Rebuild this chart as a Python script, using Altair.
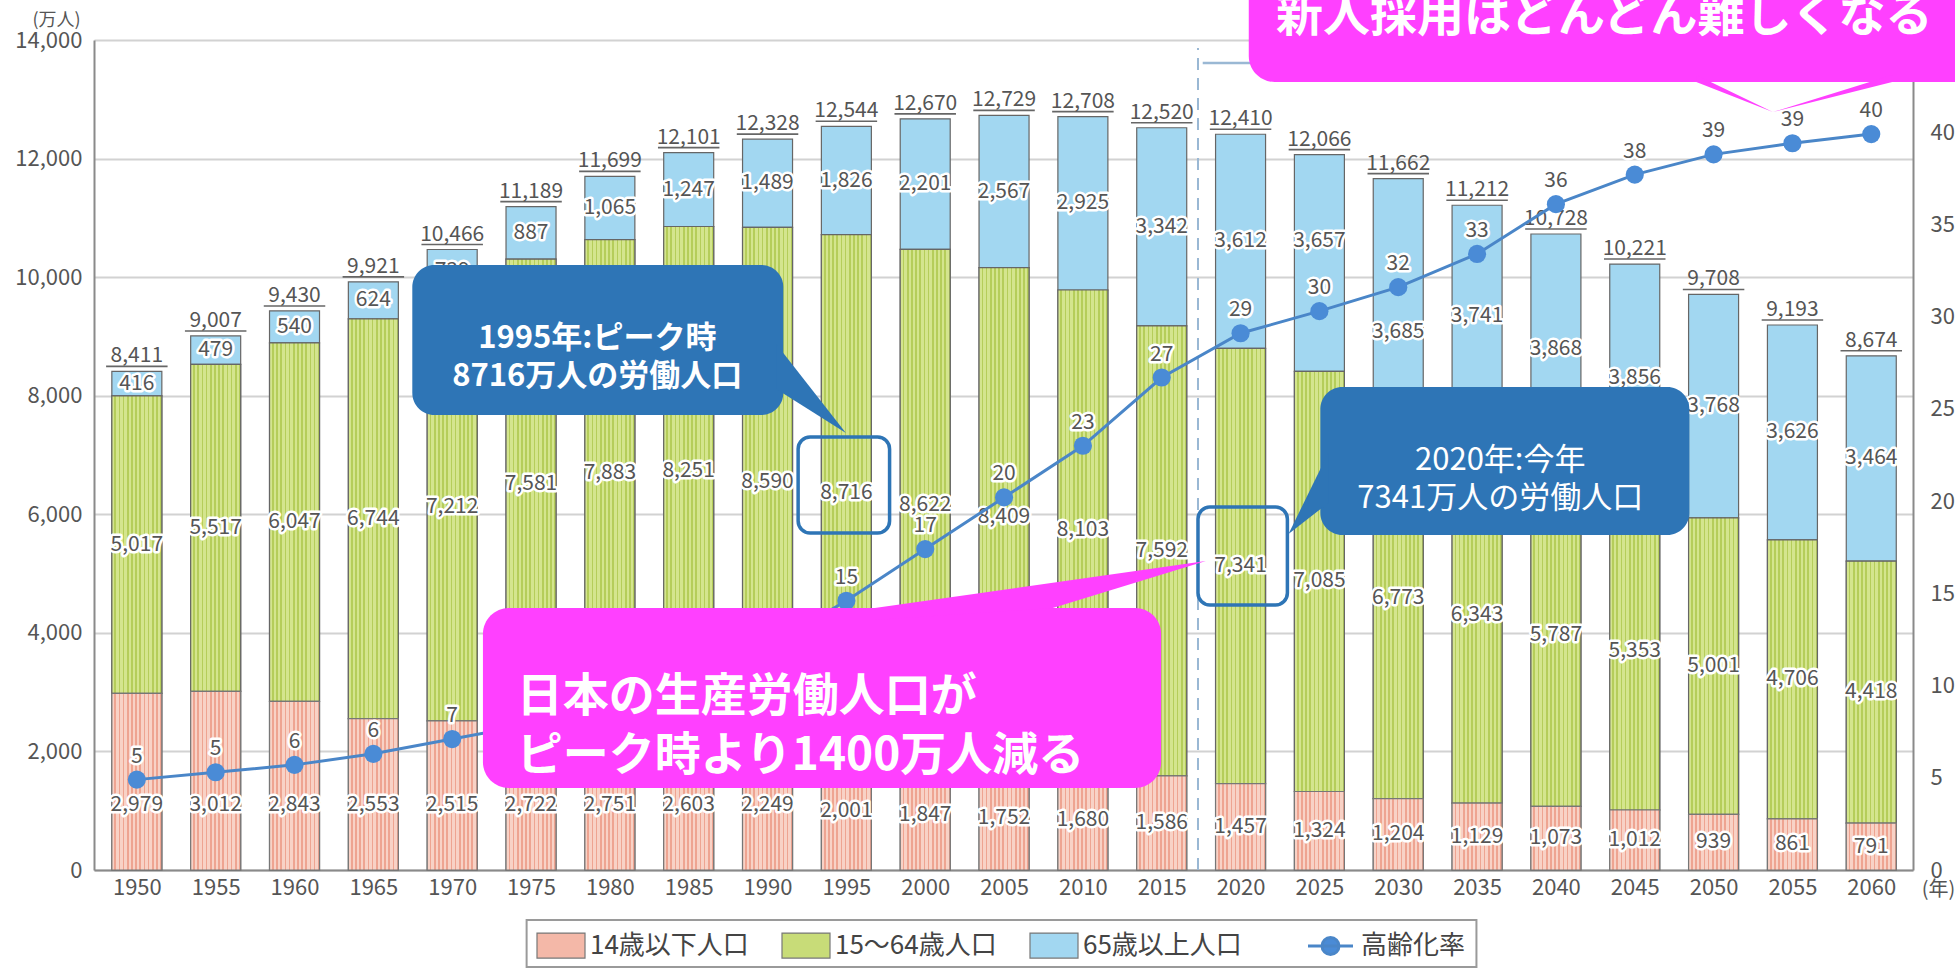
import altair as alt
import pandas as pd

FONT = "Noto Sans CJK JP"

# ---------------- data ----------------
years = [1950, 1955, 1960, 1965, 1970, 1975, 1980, 1985, 1990, 1995, 2000, 2005,
         2010, 2015, 2020, 2025, 2030, 2035, 2040, 2045, 2050, 2055, 2060]
under15 = [2979, 3012, 2843, 2553, 2515, 2722, 2751, 2603, 2249, 2001, 1847, 1752,
           1680, 1586, 1457, 1324, 1204, 1129, 1073, 1012, 939, 861, 791]
working = [5017, 5517, 6047, 6744, 7212, 7581, 7883, 8251, 8590, 8716, 8622, 8409,
           8103, 7592, 7341, 7085, 6773, 6343, 5787, 5353, 5001, 4706, 4418]
elderly = [416, 479, 540, 624, 739, 887, 1065, 1247, 1489, 1826, 2201, 2567,
           2925, 3342, 3612, 3657, 3685, 3741, 3868, 3856, 3768, 3626, 3464]
totals = [8411, 9007, 9430, 9921, 10466, 11189, 11699, 12101, 12328, 12544, 12670, 12729,
          12708, 12520, 12410, 12066, 11662, 11212, 10728, 10221, 9708, 9193, 8674]
aging_rate = [4.9, 5.3, 5.7, 6.3, 7.1, 7.9, 9.1, 10.3, 12.1, 14.6, 17.4, 20.2,
              23.0, 26.7, 29.1, 30.3, 31.6, 33.4, 36.1, 37.7, 38.8, 39.4, 39.9]

bar_series = ["14歳以下人口", "15～64歳人口", "65歳以上人口"]
bar_colors = ["#f4b8a8", "#c8dc78", "#a2d7f1"]
line_series = ["高齢化率"]
line_colors = ["#4a86c8"]

left_ticks = [0, 2000, 4000, 6000, 8000, 10000, 12000, 14000]
right_ticks = [0, 5, 10, 15, 20, 25, 30, 35, 40]

callout1_text = ["1995年:ピーク時\n8716万人の労働人口"]
callout2_text = ["2020年:今年\n7341万人の労働人口"]
pink2_text = ["日本の生産労働人口が\nピーク時より1400万人減る"]
top_text = ["新人採用はどんどん難しくなる"]

# ---------------- frames ----------------
rows = []
for i, yr in enumerate(years):
    for k, (name, arr) in enumerate(zip(bar_series, [under15, working, elderly])):
        rows.append({"year": yr, "series": name, "value": arr[i], "order": k})
pop = pd.DataFrame(rows)
tot = pd.DataFrame({"year": years, "total": totals})
rate = pd.DataFrame({"year": years, "rate": aging_rate, "series": line_series * len(years)})

XS = alt.Scale(domain=[1947.6, 2062.33], nice=False, zero=False)
YL = alt.Scale(domain=[0, 14000], nice=False)
YR = alt.Scale(domain=[0, 45], nice=False)

x_axis = alt.Axis(values=years, format="d", ticks=False, labelPadding=7, labelFontSize=22,
                  labelColor="#555", domainColor="#8a8a8a", domainWidth=2, grid=False,
                  title="(年)", titleX=1844, titleY=19, titleAlign="center",
                  titleBaseline="middle", titleFontSize=20, titleFontWeight="normal",
                  titleColor="#555")
y_axis = alt.Axis(values=left_ticks, format=",.0f", ticks=False, labelPadding=12, labelFontSize=22,
                  labelColor="#555", domainColor="#8a8a8a", domainWidth=2, grid=True,
                  gridColor="#d2d2d2", gridWidth=2, title="(万人)", titleAngle=0,
                  titleX=-38, titleY=-20, titleAlign="center", titleBaseline="middle",
                  titleFontSize=18, titleFontWeight="normal", titleColor="#555")
r_axis = alt.Axis(orient="right", values=right_ticks, format=".0f", ticks=False, labelPadding=17,
                  grid=False, labelFontSize=22, labelColor="#555", domainColor="#8a8a8a",
                  domainWidth=2, title=None)


def X(f):
    return alt.X(f, scale=XS, axis=x_axis)


def YLft(f):
    return alt.Y(f, scale=YL, axis=y_axis)


def YRgt(f):
    return alt.Y(f, scale=YR, axis=r_axis)


def YAnn(f):
    return alt.Y(f, scale=YL, axis=None)


RECT = "M-0.96,-0.5H0.96V0.5H-0.96Z"
LINESYM = "M-0.9,0H0.9M0.34,0A0.34,0.34,0,1,1,-0.34,0A0.34,0.34,0,1,1,0.34,0"
legend_bars = alt.Legend(
    title=None, orient="none", legendX=441, legendY=879.5, direction="horizontal",
    columns=3, symbolSize=2500, symbolType=RECT, symbolStrokeColor="#777",
    symbolStrokeWidth=1.2, symbolOpacity=1, labelFontSize=26, labelColor="#444",
    labelFont=FONT, labelLimit=400, columnPadding=30, labelOffset=3, padding=0)
legend_line = alt.Legend(
    title=None, orient="none", legendX=1210, legendY=879.5, direction="horizontal",
    symbolSize=2500, symbolType=LINESYM, symbolStrokeWidth=3, symbolFillColor="#4a8bd6",
    symbolOpacity=1, labelFontSize=26, labelColor="#444", labelFont=FONT, labelLimit=400,
    labelOffset=4, padding=0)


def stripe_fill(light, dark, n, dark_share):
    stops = []
    for s in range(n):
        a = s / n
        m = (s + 1 - dark_share) / n
        b = (s + 1) / n
        stops += [alt.GradientStop(offset=a, color=light), alt.GradientStop(offset=m, color=light),
                  alt.GradientStop(offset=m, color=dark), alt.GradientStop(offset=b, color=dark)]
    return alt.Gradient(gradient="linear", stops=stops, x1=0, x2=1, y1=0, y2=0)


green_fill = stripe_fill("#d4e58e", "#b5cd5a", 12, 0.4)
pink_fill = stripe_fill("#f8d2c6", "#eea491", 12, 0.4)

# ---------------- left group: bars ----------------
legend_box = alt.Chart(pd.DataFrame({"x": [1974.72], "x2": [2034.96], "y": [-1636], "y2": [-843]})).mark_rect(
    fill="white", stroke="#9a9a9a", strokeWidth=2, clip=False).encode(
    x=X("x:Q"), x2="x2:Q", y=YLft("y:Q"), y2="y2:Q")

dash = alt.Chart(pd.DataFrame({"x": [2017.3], "y": [0], "y2": [13865]})).mark_rule(
    strokeDash=[12, 8], color="#9ab8d4", strokeWidth=2).encode(
    x=X("x:Q"), y=YLft("y:Q"), y2="y2:Q")

base = alt.Chart(pop).transform_stack(
    stack="value", groupby=["year"], as_=["v0", "v1"],
    sort=[alt.SortField(field="order", order="ascending")])

bars = base.mark_bar(size=50, stroke="#666", strokeWidth=1.2).encode(
    x=X("year:Q"), y=YLft("v0:Q"), y2="v1:Q",
    color=alt.Color("series:N", scale=alt.Scale(domain=bar_series, range=bar_colors),
                    legend=legend_bars),
)
green = base.transform_filter(alt.datum.series == bar_series[1]).mark_bar(
    size=50, color=green_fill, stroke="#666", strokeWidth=1.2).encode(
    x=X("year:Q"), y=YLft("v0:Q"), y2="v1:Q")
pink = base.transform_filter(alt.datum.series == bar_series[0]).mark_bar(
    size=50, color=pink_fill, stroke="#777", strokeWidth=1.2).encode(
    x=X("year:Q"), y=YLft("v0:Q"), y2="v1:Q")

# label position inside each segment: middle, kept low in the youngest segment,
# and nudged away from the aging-rate line where the two would collide
seg = base.transform_calculate(
    ly="datum.series === '14歳以下人口' ? min(datum.value / 2, 1100) : "
       "(datum.series === '65歳以上人口' && datum.year === 2025 ? datum.v0 + 0.6 * datum.value : "
       "(datum.series === '65歳以上人口' && datum.year === 2030 ? datum.v0 + 0.3 * datum.value : "
       "(datum.v0 + datum.v1) / 2))")
seg_halo = seg.mark_text(fontSize=21, color="white", stroke="white", strokeWidth=5,
                         strokeJoin="round", baseline="middle").encode(
    x=X("year:Q"), y=YLft("ly:Q"), text=alt.Text("value:Q", format=","))
seg_text = seg.mark_text(fontSize=21, color="#555", baseline="middle").encode(
    x=X("year:Q"), y=YLft("ly:Q"), text=alt.Text("value:Q", format=","))

underline = alt.Chart(tot).transform_calculate(
    xa="datum.year - 1.95", xb="datum.year + 1.95").mark_rule(
    color="#666", strokeWidth=1.6, yOffset=-5).encode(
    x=X("xa:Q"), x2="xb:Q", y=YLft("total:Q"))
tot_text = alt.Chart(tot).mark_text(fontSize=21, color="#555", baseline="alphabetic", dy=-9).encode(
    x=X("year:Q"), y=YLft("total:Q"), text=alt.Text("total:Q", format=","))

left = alt.layer(bars, legend_box, dash, green, pink, seg_halo, seg_text, underline, tot_text)

# ---------------- right group: aging rate ----------------
rbase = alt.Chart(rate)
line = rbase.mark_line(strokeWidth=3).encode(
    x=X("year:Q"), y=YRgt("rate:Q"),
    stroke=alt.Stroke("series:N", scale=alt.Scale(domain=line_series, range=line_colors),
                      legend=legend_line))
pts = rbase.mark_circle(size=330, color="#4a8bd6", opacity=1).encode(
    x=X("year:Q"), y=YRgt("rate:Q"))
r_halo = rbase.mark_text(fontSize=21, color="white", stroke="white", strokeWidth=5,
                         strokeJoin="round", dy=-23, baseline="middle").encode(
    x=X("year:Q"), y=YRgt("rate:Q"), text=alt.Text("rate:Q", format=".0f"))
r_text = rbase.mark_text(fontSize=21, color="#555", dy=-23, baseline="middle").encode(
    x=X("year:Q"), y=YRgt("rate:Q"), text=alt.Text("rate:Q", format=".0f"))
right = alt.layer(line, pts, r_halo, r_text)

# ---------------- annotations ----------------
BLUE = "#2e75b6"
PINK = "#ff40ff"


def box(x, x2, y, y2, **mk):
    return alt.Chart(pd.DataFrame({"x": [x], "x2": [x2], "y": [y], "y2": [y2]})).mark_rect(**mk).encode(
        x=X("x:Q"), x2="x2:Q", y=YAnn("y:Q"), y2="y2:Q")


def tail(xs, ys, y2s, color):
    return alt.Chart(pd.DataFrame({"x": xs, "y": ys, "y2": y2s})).mark_area(color=color).encode(
        x=X("x:Q"), y=YAnn("y:Q"), y2="y2:Q")


def label(x, y, txt, **mk):
    return alt.Chart(pd.DataFrame({"x": [x], "y": [y], "t": txt})).mark_text(
        lineBreak="\n", color="white", font=FONT, baseline="middle", **mk).encode(
        x=X("x:Q"), y=YAnn("y:Q"), text="t:N")


hl1 = box(1991.94, 1997.74, 5684, 7303, fillOpacity=0, stroke=BLUE, strokeWidth=3.5, cornerRadius=12)
hl2 = box(2017.3, 2022.97, 4470, 6123, fillOpacity=0, stroke=BLUE, strokeWidth=3.5, cornerRadius=12)

c1 = box(1967.47, 1991.0, 7674, 10205, color=BLUE, cornerRadius=22)
c1t = tail([1990.55, 1994.97], [8872, 7371], [8113, 7371], BLUE)
c1l = label(1979.2, 8956, callout1_text, fontSize=31, fontWeight="bold", lineHeight=38, align="center")

c2 = box(2025.06, 2048.46, 5650, 8147, color=BLUE, cornerRadius=22)
c2t = tail([2023.04, 2025.56], [5667, 7034], [5667, 6190], BLUE)
c2l = label(2036.47, 6899, callout2_text, fontSize=31, fontWeight="normal", lineHeight=38, align="center")

p2 = box(1971.95, 2014.96, 1383, 4419, color=PINK, cornerRadius=26)
p2t = tail([1996.8, 2008.09, 2017.8], [4419, 4846, 5212], [4217, 4419, 5212], PINK)
p2l = label(1974.09, 2910, pink2_text, fontSize=46, fontWeight="bold", lineHeight=59, align="left")

arrow_stub = alt.Chart(pd.DataFrame({"x": [2017.6], "x2": [2021.0], "y": [13612]})).mark_rule(
    color="#9ab8d4", strokeWidth=2.5).encode(x=X("x:Q"), x2="x2:Q", y=YAnn("y:Q"))

ptop = box(2020.52, 2068.0, 13291, 15400, color=PINK, cornerRadius=26)
ptopt = tail([2048.9, 2053.76, 2061.33], [13409, 12785, 13409], [13291, 12785, 13291], PINK)
ptopl = label(2043.07, 14388, top_text, fontSize=47, fontWeight="bold", align="center")

annot = alt.layer(hl1, hl2, arrow_stub, c1, c1t, c1l, c2, c2t, c2l,
                  p2, p2t, p2l, ptop, ptopt, ptopl)

chart = alt.layer(left, right, annot).resolve_scale(y="independent").properties(
    width=1819, height=830,
    padding={"left": 94, "top": 40, "right": 42, "bottom": 98},
    autosize=alt.AutoSizeParams(type="none"),
    background="white",
).configure(font=FONT).configure_view(stroke="transparent")

chart.save("out.html", embed_options={"renderer": "svg", "actions": False})
